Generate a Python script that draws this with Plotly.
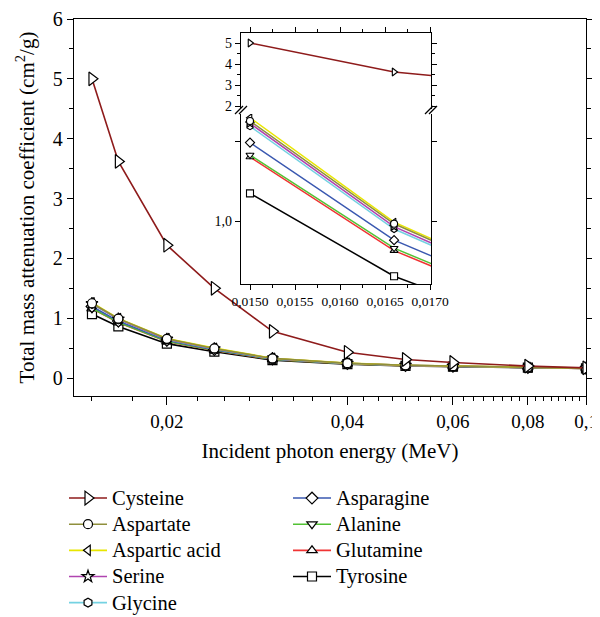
import math
import plotly.graph_objects as go

# ---------------- data ----------------
energy = [0.015, 0.0166, 0.02, 0.024, 0.03, 0.04, 0.05, 0.06, 0.08, 0.1]

cysteine      = [5.000, 3.620, 2.220, 1.500, 0.780, 0.430, 0.310, 0.260, 0.200, 0.170]
aspartate     = [1.250, 0.993, 0.655, 0.495, 0.328, 0.248, 0.213, 0.199, 0.179, 0.164]
aspartic_acid = [1.258, 0.997, 0.660, 0.500, 0.330, 0.250, 0.215, 0.200, 0.180, 0.165]
serine        = [1.244, 0.986, 0.650, 0.490, 0.325, 0.247, 0.212, 0.198, 0.178, 0.164]
glycine       = [1.237, 0.980, 0.645, 0.487, 0.323, 0.246, 0.212, 0.198, 0.178, 0.164]
asparagine    = [1.196, 0.952, 0.630, 0.475, 0.318, 0.243, 0.210, 0.196, 0.177, 0.163]
alanine       = [1.165, 0.932, 0.615, 0.465, 0.312, 0.240, 0.208, 0.195, 0.176, 0.162]
glutamine     = [1.160, 0.926, 0.610, 0.460, 0.310, 0.238, 0.207, 0.194, 0.176, 0.162]
tyrosine      = [1.069, 0.862, 0.575, 0.440, 0.300, 0.232, 0.203, 0.190, 0.173, 0.160]

series_names = ["Cysteine", "Aspartate", "Aspartic acid", "Serine", "Glycine",
                "Asparagine", "Alanine", "Glutamine", "Tyrosine"]
series_values = [cysteine, aspartate, aspartic_acid, serine, glycine,
                 asparagine, alanine, glutamine, tyrosine]

main_x_ticks = [0.02, 0.04, 0.06, 0.08, 0.1]
main_x_labels = ["0,02", "0,04", "0,06", "0,08", "0,1"]
main_y_ticks = [0, 1, 2, 3, 4, 5, 6]
inset_x_ticks = [0.0150, 0.0155, 0.0160, 0.0165, 0.0170]
inset_x_labels = ["0,0150", "0,0155", "0,0160", "0,0165", "0,0170"]
inset_upper_ticks = [2, 3, 4, 5]
inset_lower_ticks = [1.0]
inset_lower_labels = ["1,0"]
inset_lower_minor = [1.2]

# ---------------- styles ----------------
colors = ["#8e1b1b", "#8f8f3c", "#e8e600", "#b044b0", "#74d2e2",
          "#3a58b0", "#52c234", "#f03434", "#000000"]
symbols = ["triangle-right", "circle", "triangle-left", "star", "hexagon",
           "diamond", "triangle-down", "triangle-up", "square"]
legend_ids = ["legend"] * 5 + ["legend2"] * 4
FONT = "Liberation Serif"

fig = go.Figure()

# main plot traces (Cysteine drawn last so it sits on top)
order = list(range(1, 9))[::-1] + [0]
for i in order:
    big = (i == 0)
    fig.add_trace(go.Scatter(
        x=energy, y=series_values[i], mode="lines+markers",
        name='<span style="font-size:20.5px">%s</span>' % series_names[i],
        legend=legend_ids[i], legendrank=i + 1,
        line=dict(color=colors[i], width=1.6),
        marker=dict(symbol=symbols[i], size=12 if big else 9, color="white",
                    line=dict(color="black", width=1.2)),
        xaxis="x", yaxis="y"))

# inset traces: lower (linear, around 1) and upper (Cysteine) panels
for i in order:
    for ya, xa in (("y2", "x2"), ("y3", "x3")):
        fig.add_trace(go.Scatter(
            x=energy, y=series_values[i], mode="lines+markers", showlegend=False,
            line=dict(color=colors[i], width=1.5),
            marker=dict(symbol=symbols[i], size=7, color="white",
                        line=dict(color="black", width=1.1)),
            xaxis=xa, yaxis=ya, hoverinfo="skip"))

# ---------------- geometry ----------------
# The page body has an 8px margin, so the figure is drawn 8px in from the
# top-left corner; positions below are in window pixels.
OFF = 8
WIN_W, WIN_H = 600, 617
W, H = WIN_W - OFF, WIN_H - OFF
L, R, T, B = 74, 586, 19, 396
pw, ph = R - L, B - T


def px(x):
    return (x - L) / pw


def py(y):
    return (B - y) / ph


minor_main = [round(0.015 + 0.0025 * k, 4) for k in range(35)]
minor_main = [v for v in minor_main if v not in main_x_ticks and v <= 0.1]

axis_common = dict(showline=True, linecolor="black", linewidth=1.4,
                   showgrid=False, zeroline=False, ticks="outside",
                   tickcolor="black", tickwidth=1.2, automargin=False)

ix0, ix1 = px(241), px(431)

fig.update_layout(
    width=W, height=H,
    margin=dict(l=L - OFF, r=WIN_W - R, t=T - OFF, b=WIN_H - B, pad=0,
                autoexpand=False),
    paper_bgcolor="white", plot_bgcolor="white",
    font=dict(family=FONT, color="black", size=20),
    xaxis=dict(**axis_common, type="log", domain=[0, 1], anchor="y",
               range=[math.log10(0.014), math.log10(0.1)],
               tickmode="array", tickvals=main_x_ticks, ticktext=main_x_labels,
               ticklen=8, mirror=True,
               minor=dict(tickmode="array", tickvals=minor_main, ticks="outside",
                          ticklen=4, tickwidth=1, tickcolor="black"),
               tickfont=dict(family=FONT, size=19),
               title=dict(text="Incident photon energy (MeV)",
                          font=dict(family=FONT, size=21), standoff=12)),
    yaxis=dict(**axis_common, domain=[0, 1], anchor="x", range=[-0.3, 6],
               tickmode="array", tickvals=main_y_ticks, ticklen=6, mirror="ticks",
               minor=dict(dtick=0.5, tick0=0, ticks="outside", ticklen=4,
                          tickwidth=1, tickcolor="black"),
               tickfont=dict(family=FONT, size=20),
               title=dict(text="Total mass attenuation coefficient (cm<sup>2</sup>/g)",
                          font=dict(family=FONT, size=21), standoff=12)),
    # inset lower panel
    xaxis2=dict(**axis_common, domain=[ix0, ix1], anchor="y2",
                range=[0.0149, 0.01701], tickmode="array",
                tickvals=inset_x_ticks, ticktext=inset_x_labels, ticklen=5,
                minor=dict(dtick=0.00025, tick0=0.015, ticks="outside", ticklen=3,
                           tickwidth=1, tickcolor="black"),
                tickfont=dict(family=FONT, size=13.5)),
    yaxis2=dict(**axis_common, domain=[py(284), py(114)], anchor="x2",
                range=[0.8425, 1.2675], tickmode="array",
                tickvals=inset_lower_ticks, ticktext=inset_lower_labels,
                ticklen=5, mirror="ticks", tickfont=dict(family=FONT, size=14),
                minor=dict(tickmode="array", tickvals=inset_lower_minor,
                           ticks="outside", ticklen=5, tickwidth=1.2,
                           tickcolor="black")),
    # inset upper panel
    xaxis3=dict(**axis_common, domain=[ix0, ix1], anchor="y3", side="top",
                range=[0.0149, 0.01701], tickmode="array",
                tickvals=inset_x_ticks, showticklabels=False, ticklen=5,
                minor=dict(dtick=0.00025, tick0=0.015, ticks="outside", ticklen=3,
                           tickwidth=1, tickcolor="black")),
    yaxis3=dict(**axis_common, domain=[py(109), py(33)], anchor="x3",
                range=[1.857, 5.476], tickmode="array",
                tickvals=inset_upper_ticks, ticklen=5, mirror="ticks",
                minor=dict(dtick=0.5, tick0=0, ticks="outside", ticklen=3,
                           tickwidth=1, tickcolor="black"),
                tickfont=dict(family=FONT, size=14)),
    legend=dict(x=px(64), y=py(480), xanchor="left", yanchor="top",
                bgcolor="rgba(0,0,0,0)", borderwidth=0, itemwidth=38,
                font=dict(family=FONT, size=17.8), tracegroupgap=0),
    legend2=dict(x=px(288), y=py(480), xanchor="left", yanchor="top",
                 bgcolor="rgba(0,0,0,0)", borderwidth=0, itemwidth=38,
                 font=dict(family=FONT, size=17.8), tracegroupgap=0),
)

# axis-break marks on the inset
for xb in (241, 431):
    for dx in (-2, 2):
        fig.add_shape(type="line", xref="paper", yref="paper",
                      x0=px(xb + dx - 4), y0=py(114), x1=px(xb + dx + 4), y1=py(106),
                      line=dict(color="black", width=1.3))

fig.write_html("out.html")
